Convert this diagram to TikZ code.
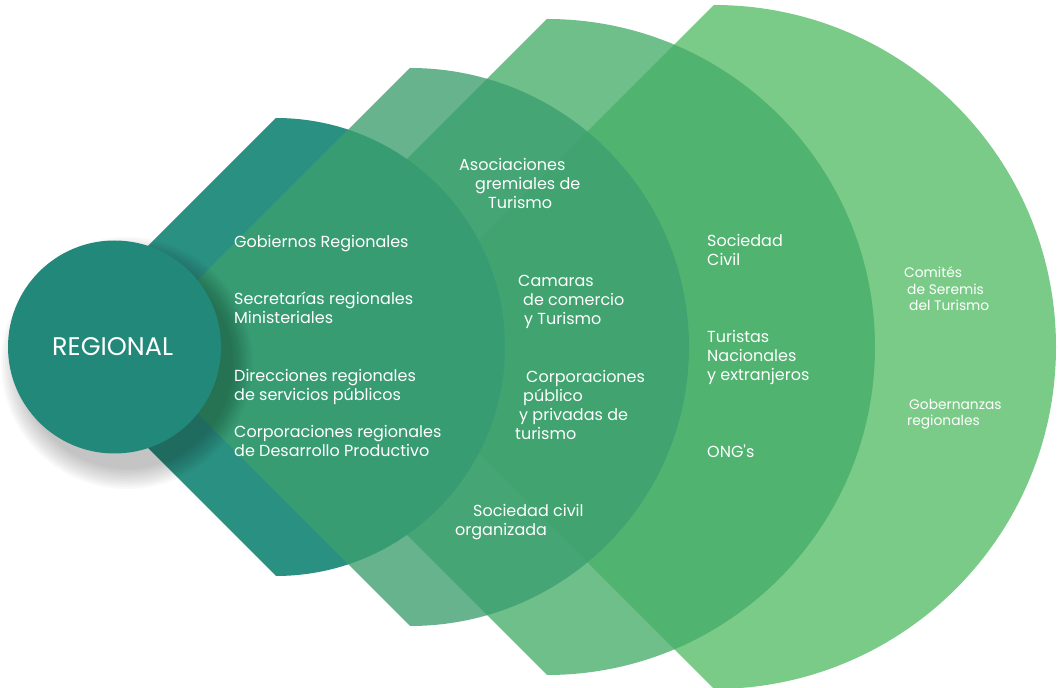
\documentclass[tikz,border=0pt]{standalone}
\usepackage{fontspec}
\setmainfont{Poppins}[Ligatures=TeXOff]
\usetikzlibrary{calc}
\definecolor{coneA}{HTML}{2A9182}
\definecolor{coneB}{HTML}{3D9F70}
\definecolor{coneC}{HTML}{47AE6B}
\definecolor{coneD}{HTML}{58BD68}
\definecolor{regional}{HTML}{21887A}
\def\cone[#1](#2)(#3){\fill[#1] ($(#2)+(-#3,0)$) -- ($(#2)+(0,#3)$) arc (90:-90:#3) -- cycle;}
\tikzset{
	lbl/.style={anchor=base west, inner sep=0, align=left, text=white, font=\fontsize{16}{19}\selectfont},
	small/.style={lbl, font=\fontsize{13.8}{16.5}\selectfont}
}

\begin{document}
\begin{tikzpicture}[x=1pt,y=1pt]
	%%%%% START %%%%%
	\useasboundingbox (0,0) rectangle (1058,688);
	
	\cone[coneD, opacity=0.79](714,341)(342);
	\cone[coneC, opacity=0.79](547,341)(328);
	\cone[coneA](276,341)(229);
	\cone[coneB, opacity=0.79](410,341)(279);
	
	% soft shadow under the circle
	\foreach \r in {106,108,...,126}
		\fill[black, opacity=0.022] (127,325) circle (\r);
	\fill[regional] (114.5,341) circle (106.5);
	\node[lbl, font=\fontsize{25.5}{30}\selectfont] (regional) at (52,332) {REGIONAL};
	
	% base = last line
	\node[lbl] (gob) at (234,440) {Gobiernos Regionales};
	\node[lbl] (sec) at (234,364) {Secretarías regionales\\Ministeriales};
	\node[lbl] (dir) at (234,287) {Direcciones regionales\\de servicios públicos};
	\node[lbl] (corpreg) at (234,231) {Corporaciones regionales\\de Desarrollo Productivo};
	
	\node[lbl] (asoc) at (459,479) {Asociaciones\\\hspace*{16pt}gremiales de\\\hspace*{29pt}Turismo};
	\node[lbl] (cam) at (518,363) {Camaras\\\hspace*{5pt}de comercio\\\hspace*{6pt}y Turismo};
	\node[lbl] (corp) at (515,248) {\hspace*{11pt}Corporaciones\\\hspace*{8pt}público\\\hspace*{4pt}y privadas de\\turismo};
	\node[lbl] (socorg) at (455,152) {\hspace*{18pt}Sociedad civil\\organizada};
	
	\node[lbl] (soc) at (707,422) {Sociedad\\Civil};
	\node[lbl] (tur) at (707,307) {Turistas\\Nacionales\\y extranjeros};
	\node[lbl] (ong) at (707,230) {ONG's};
	
	\node[small] (com) at (904,377) {Comités\\\hspace*{3pt}de Seremis\\\hspace*{5pt}del Turismo};
	\node[small, font=\fontsize{13.8}{15.5}\selectfont] (gobz) at (907,262.5) {\hspace*{2pt}Gobernanzas\\regionales};
	
	%%%%% END %%%%%
\end{tikzpicture}
\end{document}
